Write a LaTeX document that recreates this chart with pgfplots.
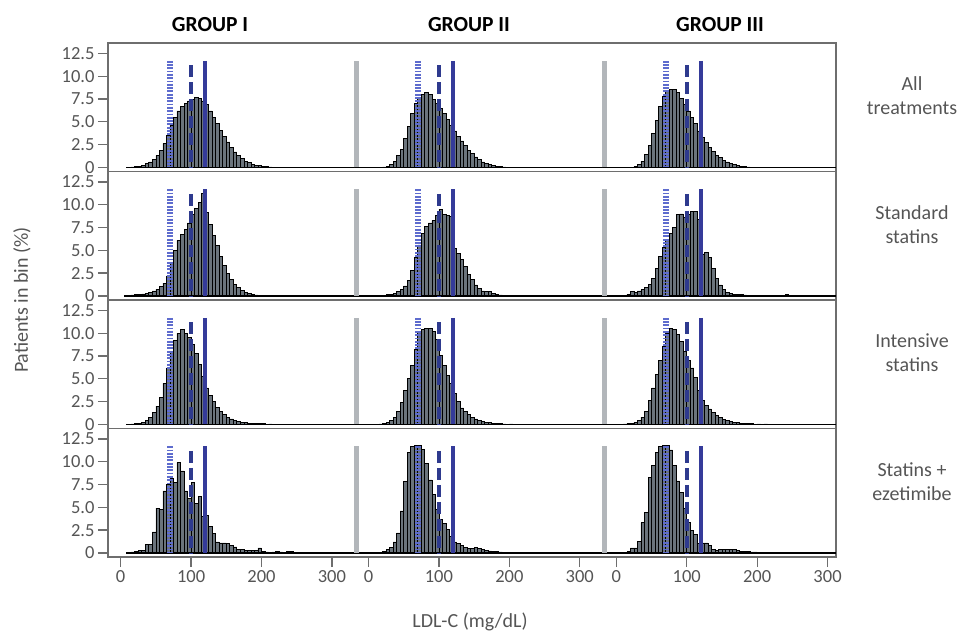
\documentclass[border=0pt]{standalone}
\usepackage{fontspec}
\setmainfont{Carlito}
\usepackage{pgfplots}
\usepackage{pgfplotstable}
\pgfplotsset{compat=1.18}
\usepgfplotslibrary{groupplots}

\definecolor{barfill}{HTML}{6B747C}
\definecolor{refdot}{HTML}{5E6CCE}
\definecolor{refdash}{HTML}{2E3A8E}
\definecolor{refsolid}{HTML}{353B9A}
\definecolor{sepgrey}{HTML}{B2B6BA}
\definecolor{labgrey}{HTML}{555555}
\definecolor{framegrey}{HTML}{6E6E6E}

% b = left edge of 5 mg/dL bin, v = patients in bin (%)
% row 1: all treatments
\pgfplotstableread[row sep=\\]{b v\\
10 0.03\\ 15 0.05\\ 20 0.1\\ 25 0.15\\ 30 0.25\\ 35 0.4\\ 40 0.6\\ 45 0.9\\ 50 1.3\\ 55 1.9\\
60 2.6\\ 65 3.5\\ 70 4.6\\ 75 5.5\\ 80 6.2\\ 85 6.7\\ 90 7.0\\ 95 7.3\\ 100 7.5\\ 105 7.7\\
110 7.6\\ 115 7.3\\ 120 6.9\\ 125 6.2\\ 130 5.5\\ 135 4.8\\ 140 4.1\\ 145 3.4\\ 150 2.8\\ 155 2.2\\
160 1.7\\ 165 1.3\\ 170 0.95\\ 175 0.7\\ 180 0.5\\ 185 0.35\\ 190 0.25\\ 195 0.17\\ 200 0.12\\ 205 0.08\\
210 0.05\\ 215 0.04\\ 220 0.03\\ 225 0.02\\ 230 0.02\\}\aI
\pgfplotstableread[row sep=\\]{b v\\
15 0.03\\ 20 0.06\\ 25 0.12\\ 30 0.3\\ 35 0.7\\ 40 1.3\\ 45 2.0\\ 50 3.2\\ 55 4.5\\ 60 5.9\\
65 7.0\\ 70 7.7\\ 75 8.0\\ 80 8.2\\ 85 8.0\\ 90 7.5\\ 95 7.0\\ 100 6.5\\ 105 5.9\\ 110 5.3\\
115 4.6\\ 120 4.0\\ 125 3.4\\ 130 2.9\\ 135 2.4\\ 140 1.9\\ 145 1.5\\ 150 1.15\\ 155 0.85\\ 160 0.6\\
165 0.42\\ 170 0.3\\ 175 0.2\\ 180 0.13\\ 185 0.08\\ 190 0.05\\ 195 0.03\\ 200 0.02\\}\aII
\pgfplotstableread[row sep=\\]{b v\\
20 0.03\\ 25 0.1\\ 30 0.3\\ 35 0.7\\ 40 1.4\\ 45 2.4\\ 50 3.7\\ 55 5.2\\ 60 6.7\\ 65 7.8\\
70 8.3\\ 75 8.6\\ 80 8.6\\ 85 8.2\\ 90 7.6\\ 95 6.9\\ 100 6.2\\ 105 5.5\\ 110 4.8\\ 115 4.0\\
120 3.3\\ 125 2.7\\ 130 2.2\\ 135 1.75\\ 140 1.35\\ 145 1.05\\ 150 0.8\\ 155 0.6\\ 160 0.42\\ 165 0.3\\
170 0.2\\ 175 0.12\\ 180 0.08\\ 185 0.05\\ 190 0.03\\}\aIII
% row 2: standard statins
\pgfplotstableread[row sep=\\]{b v\\
5 0.05\\ 10 0.07\\ 15 0.1\\ 20 0.14\\ 25 0.18\\ 30 0.22\\ 35 0.3\\ 40 0.4\\ 45 0.55\\ 50 0.75\\
55 1.0\\ 60 1.4\\ 65 2.2\\ 70 3.6\\ 75 5.0\\ 80 6.1\\ 85 6.7\\ 90 7.3\\ 95 8.0\\ 100 8.9\\
105 9.6\\ 110 10.3\\ 115 11.2\\ 120 9.2\\ 125 7.8\\ 130 6.6\\ 135 5.5\\ 140 4.3\\ 145 3.3\\ 150 2.5\\
155 1.8\\ 160 1.3\\ 165 0.9\\ 170 0.6\\ 175 0.4\\ 180 0.25\\ 185 0.15\\ 190 0.1\\ 195 0.08\\ 200 0.06\\
205 0.05\\ 210 0.04\\ 220 0.03\\ 230 0.03\\ 240 0.03\\ 250 0.02\\}\sI
\pgfplotstableread[row sep=\\]{b v\\
10 0.03\\ 15 0.05\\ 20 0.08\\ 25 0.12\\ 30 0.18\\ 35 0.28\\ 40 0.45\\ 45 0.7\\ 50 1.1\\ 55 1.7\\
60 2.8\\ 65 4.2\\ 70 5.6\\ 75 6.9\\ 80 7.6\\ 85 8.0\\ 90 8.3\\ 95 8.8\\ 100 9.5\\ 105 8.9\\
110 8.8\\ 115 8.7\\ 120 5.2\\ 125 4.7\\ 130 4.0\\ 135 3.2\\ 140 2.4\\ 145 1.8\\ 150 1.2\\ 155 0.8\\
160 0.55\\ 165 0.45\\ 170 0.45\\ 175 0.25\\ 180 0.15\\ 185 0.1\\ 190 0.07\\ 195 0.05\\ 200 0.04\\ 210 0.03\\
220 0.02\\ 230 0.02\\ 240 0.05\\ 250 0.02\\}\sII
\pgfplotstableread[row sep=\\]{b v\\
10 0.05\\ 15 0.2\\ 20 0.45\\ 25 0.4\\ 30 0.55\\ 35 0.7\\ 40 0.9\\ 45 1.3\\ 50 1.9\\ 55 3.0\\
60 4.3\\ 65 5.3\\ 70 6.2\\ 75 6.9\\ 80 7.5\\ 85 8.9\\ 90 9.0\\ 95 8.6\\ 100 8.9\\ 105 9.3\\
110 9.3\\ 115 8.4\\ 120 4.6\\ 125 4.8\\ 130 4.2\\ 135 3.0\\ 140 1.9\\ 145 1.2\\ 150 0.7\\ 155 0.4\\
160 0.3\\ 165 0.2\\ 170 0.15\\ 175 0.12\\ 180 0.1\\ 185 0.08\\ 190 0.07\\ 200 0.06\\ 210 0.05\\ 220 0.05\\
230 0.05\\ 240 0.15\\ 250 0.03\\}\sIII
% row 3: intensive statins
\pgfplotstableread[row sep=\\]{b v\\
10 0.03\\ 15 0.05\\ 20 0.08\\ 25 0.15\\ 30 0.25\\ 35 0.45\\ 40 0.8\\ 45 1.3\\ 50 2.0\\ 55 3.0\\
60 4.5\\ 65 6.2\\ 70 7.9\\ 75 9.2\\ 80 10.0\\ 85 10.4\\ 90 10.0\\ 95 9.5\\ 100 8.8\\ 105 7.8\\
110 6.6\\ 115 5.3\\ 120 4.0\\ 125 3.2\\ 130 2.5\\ 135 1.9\\ 140 1.4\\ 145 1.05\\ 150 0.8\\ 155 0.6\\
160 0.45\\ 165 0.35\\ 170 0.25\\ 175 0.2\\ 180 0.15\\ 185 0.12\\ 190 0.1\\ 195 0.08\\ 200 0.07\\ 210 0.05\\
220 0.04\\ 230 0.03\\ 240 0.03\\ 250 0.02\\}\iI
\pgfplotstableread[row sep=\\]{b v\\
15 0.05\\ 20 0.1\\ 25 0.2\\ 30 0.4\\ 35 0.8\\ 40 1.4\\ 45 2.4\\ 50 3.7\\ 55 5.0\\ 60 6.5\\
65 8.2\\ 70 10.1\\ 75 10.4\\ 80 10.5\\ 85 10.5\\ 90 10.2\\ 95 9.3\\ 100 7.6\\ 105 6.5\\ 110 5.4\\
115 4.5\\ 120 3.4\\ 125 2.5\\ 130 1.8\\ 135 1.4\\ 140 1.05\\ 145 0.8\\ 150 0.6\\ 155 0.45\\ 160 0.35\\
165 0.25\\ 170 0.2\\ 175 0.15\\ 180 0.1\\ 185 0.08\\ 190 0.06\\ 200 0.05\\ 210 0.04\\ 220 0.03\\ 230 0.02\\}\iII
\pgfplotstableread[row sep=\\]{b v\\
5 0.03\\ 10 0.06\\ 15 0.1\\ 20 0.15\\ 25 0.25\\ 30 0.45\\ 35 0.8\\ 40 1.4\\ 45 2.6\\ 50 4.0\\
55 5.5\\ 60 7.0\\ 65 8.6\\ 70 10.0\\ 75 10.5\\ 80 10.4\\ 85 9.9\\ 90 9.1\\ 95 8.0\\ 100 7.0\\
105 6.2\\ 110 5.2\\ 115 3.7\\ 120 2.6\\ 125 2.1\\ 130 1.7\\ 135 1.3\\ 140 1.0\\ 145 0.75\\ 150 0.55\\
155 0.42\\ 160 0.32\\ 165 0.25\\ 170 0.2\\ 175 0.15\\ 180 0.12\\ 185 0.1\\ 190 0.08\\ 200 0.06\\ 210 0.05\\
220 0.04\\ 230 0.03\\ 240 0.02\\}\iIII
% row 4: statins + ezetimibe
\pgfplotstableread[row sep=\\]{b v\\
10 0.05\\ 15 0.1\\ 20 0.15\\ 25 0.25\\ 30 0.3\\ 35 0.9\\ 40 0.9\\ 45 2.3\\ 50 4.9\\ 55 4.8\\
60 6.8\\ 65 7.5\\ 70 8.2\\ 75 7.7\\ 80 9.9\\ 85 9.0\\ 90 6.8\\ 95 6.0\\ 100 7.7\\ 105 5.4\\
110 6.2\\ 115 4.0\\ 120 4.1\\ 125 2.9\\ 130 2.1\\ 135 1.2\\ 140 1.1\\ 145 1.1\\ 150 1.05\\ 155 0.85\\
160 0.65\\ 165 0.4\\ 170 0.35\\ 175 0.3\\ 180 0.3\\ 185 0.25\\ 190 0.25\\ 195 0.55\\ 200 0.15\\ 205 0.1\\
210 0.08\\ 215 0.1\\ 220 0.2\\ 225 0.1\\ 230 0.05\\ 235 0.12\\ 240 0.15\\ 245 0.05\\ 250 0.05\\ 255 0.08\\
260 0.04\\}\eI
\pgfplotstableread[row sep=\\]{b v\\
10 0.03\\ 15 0.08\\ 20 0.2\\ 25 0.35\\ 30 0.6\\ 35 1.2\\ 40 2.2\\ 45 4.6\\ 50 7.8\\ 55 11.0\\
60 11.7\\ 65 11.8\\ 70 11.8\\ 75 11.4\\ 80 9.8\\ 85 8.0\\ 90 6.4\\ 95 4.8\\ 100 3.7\\ 105 3.2\\
110 2.6\\ 115 1.8\\ 120 1.2\\ 125 1.0\\ 130 0.85\\ 135 0.6\\ 140 0.45\\ 145 0.5\\ 150 0.6\\ 155 0.45\\
160 0.35\\ 165 0.3\\ 170 0.22\\ 175 0.18\\ 180 0.14\\ 185 0.1\\ 190 0.08\\ 195 0.06\\ 200 0.05\\ 210 0.04\\
220 0.04\\ 240 0.03\\ 260 0.02\\ 280 0.03\\}\eII
\pgfplotstableread[row sep=\\]{b v\\
10 0.05\\ 15 0.15\\ 20 0.55\\ 25 0.55\\ 30 1.3\\ 35 3.3\\ 40 4.4\\ 45 8.3\\ 50 9.6\\ 55 11.0\\
60 11.7\\ 65 11.8\\ 70 11.8\\ 75 11.3\\ 80 9.6\\ 85 7.9\\ 90 6.6\\ 95 4.9\\ 100 3.3\\ 105 2.5\\
110 2.0\\ 115 1.0\\ 120 1.1\\ 125 1.1\\ 130 0.85\\ 135 0.4\\ 140 0.3\\ 145 0.35\\ 150 0.37\\ 155 0.37\\
160 0.37\\ 165 0.35\\ 170 0.3\\ 175 0.2\\ 180 0.15\\ 185 0.12\\ 190 0.1\\ 195 0.1\\ 200 0.08\\ 210 0.08\\
220 0.08\\ 230 0.06\\ 240 0.05\\ 250 0.05\\ 260 0.05\\ 270 0.07\\ 280 0.04\\ 290 0.03\\}\eIII

\pgfplotsset{
  hist/.style={ybar, bar width=5, bar shift=0pt, fill=barfill, draw=black, line width=0.7pt},
  sepline/.style={sepgrey, line width=4.5pt},
  dotref/.style={refdot, line width=6pt, dash pattern=on 1.8pt off 1.5pt},
  dashref/.style={refdash, line width=3.8pt, dash pattern=on 12pt off 5pt},
  solidref/.style={refsolid, line width=3.4pt},
}

% group II is drawn 352 units to the right, group III 704
\newcommand{\panel}[3]{%
  \addplot[hist] table[x expr=\thisrow{b}+2.5, y=v]{#1};
  \addplot[hist] table[x expr=\thisrow{b}+354.5, y=v]{#2};
  \addplot[hist] table[x expr=\thisrow{b}+706.5, y=v]{#3};
  \addplot[black, line width=1.3pt] coordinates {(8,0) (1016,0)};
  \addplot[sepline] coordinates {(335,0) (335,11.7)};
  \addplot[sepline] coordinates {(687,0) (687,11.7)};
  \addplot[dotref] coordinates {(70,11.7) (70,0)};
  \addplot[dotref] coordinates {(422,11.7) (422,0)};
  \addplot[dotref] coordinates {(774,11.7) (774,0)};
  \addplot[dashref] coordinates {(100,11.2) (100,0)};
  \addplot[dashref] coordinates {(452,11.2) (452,0)};
  \addplot[dashref] coordinates {(804,11.2) (804,0)};
  \addplot[solidref] coordinates {(120,11.7) (120,0)};
  \addplot[solidref] coordinates {(472,11.7) (472,0)};
  \addplot[solidref] coordinates {(824,11.7) (824,0)};
}

\begin{document}
\begin{tikzpicture}
\begin{groupplot}[
  group style={group size=1 by 4, vertical sep=0pt},
  scale only axis, width=728pt, height=128.5pt,
  xmin=-18, xmax=1016, ymin=-0.45, ymax=13.65,
  ytick={0,2.5,5,7.5,10,12.5},
  yticklabels={0,2.5,5.0,7.5,10.0,12.5},
  xtick=\empty, ytick pos=left,
  tick align=outside, major tick length=10pt,
  axis line style={framegrey, line width=1.3pt},
  tick style={framegrey, line width=1.3pt},
  ticklabel style={font=\fontsize{18.5}{20}\selectfont, text=labgrey},
  yticklabel style={inner ysep=0pt},
  /pgf/number format/assume math mode=true,
]
\nextgroupplot
\coordinate (tl) at (rel axis cs:0,1);
\panel{\aI}{\aII}{\aIII}
\nextgroupplot
\panel{\sI}{\sII}{\sIII}
\nextgroupplot
\panel{\iI}{\iII}{\iIII}
\nextgroupplot[
  xtick={0,100,200,300,352,452,552,652,704,804,904,1004},
  xticklabels={0,100,200,300,0,100,200,300,0,100,200,300},
  xtick pos=bottom,
]
\panel{\eI}{\eII}{\eIII}
\end{groupplot}

% picture frame: 963 x 637, axis box corner at (108,43)
\path ([shift={(-108pt,43pt)}]tl) rectangle ([shift={(855pt,-594pt)}]tl);

\begin{scope}[every node/.style={font=\fontsize{20}{24}\selectfont}]
\node[font=\fontsize{21.5}{24}\selectfont\bfseries] at ([shift={(102pt,18pt)}]tl) {GROUP I};
\node[font=\fontsize{21.5}{24}\selectfont\bfseries] at ([shift={(361pt,18pt)}]tl) {GROUP II};
\node[font=\fontsize{21.5}{24}\selectfont\bfseries] at ([shift={(612pt,18pt)}]tl) {GROUP III};
\node[text=labgrey, align=center] at ([shift={(804pt,-53pt)}]tl) {All\\treatments};
\node[text=labgrey, align=center] at ([shift={(804pt,-182pt)}]tl) {Standard\\statins};
\node[text=labgrey, align=center] at ([shift={(804pt,-310pt)}]tl) {Intensive\\statins};
\node[text=labgrey, align=center] at ([shift={(804pt,-439pt)}]tl) {Statins +\\ezetimibe};
\node[text=labgrey] at ([shift={(362pt,-579pt)}]tl) {LDL-C (mg/dL)};
\node[text=labgrey, rotate=90] at ([shift={(-86pt,-257pt)}]tl) {Patients in bin (\%)};
\end{scope}
\end{tikzpicture}
\end{document}
